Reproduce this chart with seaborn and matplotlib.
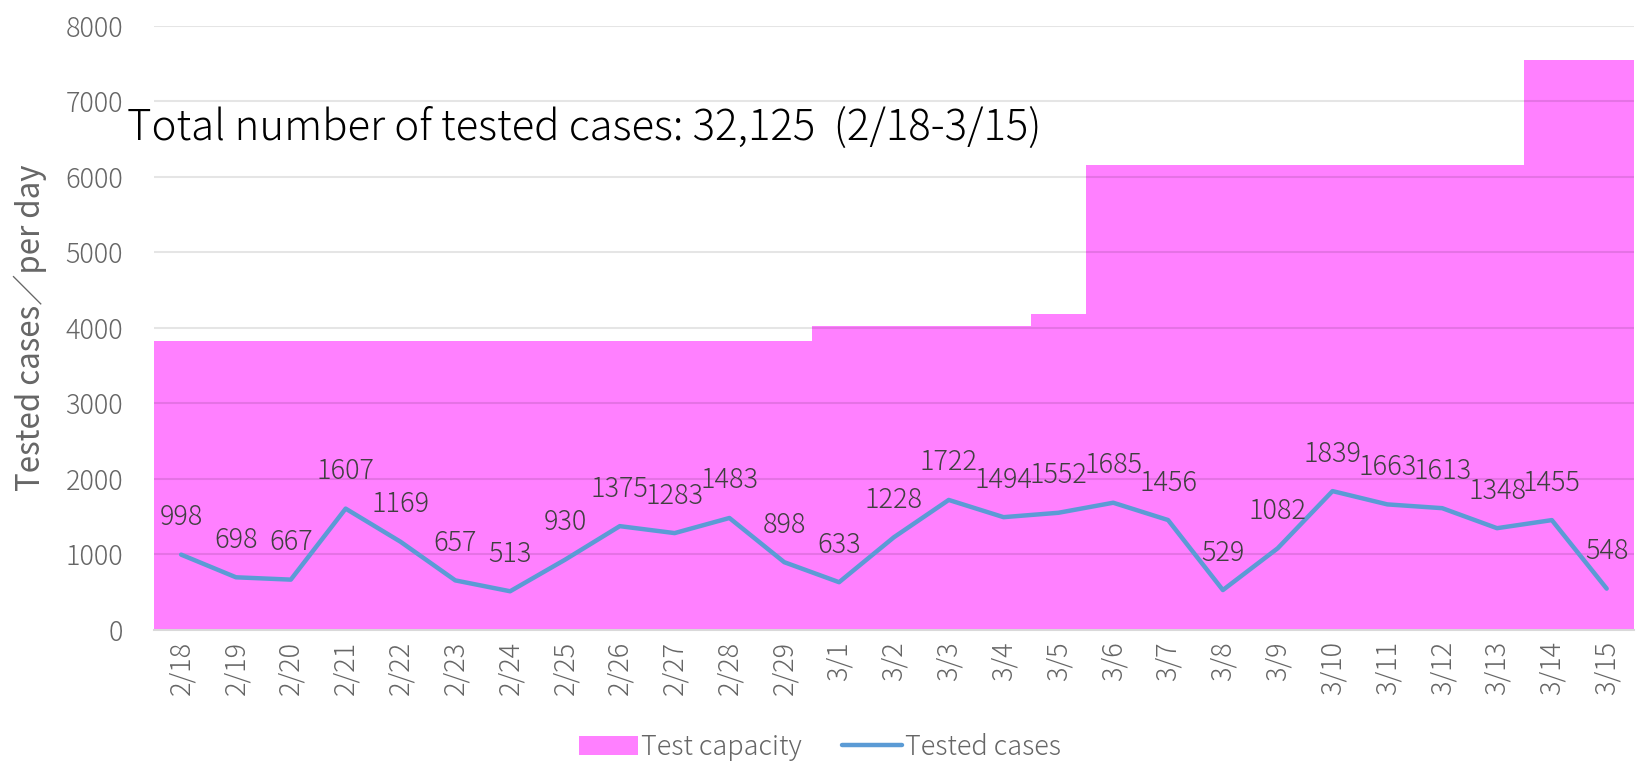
import matplotlib
matplotlib.use("Agg")
import matplotlib.pyplot as plt
import seaborn as sns
import pandas as pd
from matplotlib.patches import Patch
from matplotlib.lines import Line2D

dates = ["2/18", "2/19", "2/20", "2/21", "2/22", "2/23", "2/24", "2/25", "2/26",
         "2/27", "2/28", "2/29", "3/1", "3/2", "3/3", "3/4", "3/5", "3/6", "3/7",
         "3/8", "3/9", "3/10", "3/11", "3/12", "3/13", "3/14", "3/15"]
tested = [998, 698, 667, 1607, 1169, 657, 513, 930, 1375, 1283, 1483, 898, 633,
          1228, 1722, 1494, 1552, 1685, 1456, 529, 1082, 1839, 1663, 1613, 1348,
          1455, 548]
capacity = [3820] * 12 + [4030] * 4 + [4180] + [6150] * 8 + [7540] * 2
title_text = "Total number of tested cases: 32,125  (2/18-3/15)"

df = pd.DataFrame({"date": dates, "tested": tested, "capacity": capacity})

sns.set_theme(style="white")
plt.rcParams["font.family"] = ["Noto Sans CJK JP", "DejaVu Sans"]
plt.rcParams["font.weight"] = "light"

PINK = "#FF80FF"
BLUE = "#5B9BD5"
GRAY = "#666666"

fig = plt.figure(figsize=(16.39, 7.62), dpi=100)
ax = fig.add_axes([0.0938, 0.1732, 0.9032, 0.7931])

sns.barplot(data=df, x="date", y="capacity", color=PINK, width=1.0,
            saturation=1, ax=ax, zorder=1, linewidth=0)
sns.lineplot(x=list(range(len(dates))), y=tested, color=BLUE, linewidth=3.2,
             ax=ax, zorder=3)

for i, v in enumerate(tested):
    ax.annotate(str(v), (i, v), xytext=(0, 27), textcoords="offset points",
                ha="center", va="center", fontsize=19.5, color="#404040", zorder=4)

ax.set_xlim(-0.5, len(dates) - 0.5)
ax.set_ylim(0, 8000)
ax.set_yticks(range(0, 8001, 1000))
ax.set_axisbelow(False)
ax.yaxis.grid(True, color="black", alpha=0.1, linewidth=1.5)
ax.xaxis.grid(False)
for s in ["top", "right", "left"]:
    ax.spines[s].set_visible(False)
ax.spines["bottom"].set_color("#D9D9D9")
ax.spines["bottom"].set_linewidth(1.5)
ax.spines["bottom"].set_zorder(5)

ax.set_xticks(range(len(dates)))
ax.set_xticklabels(dates, rotation=90)
ax.tick_params(axis="both", length=0, labelsize=19.5, labelcolor=GRAY)
ax.tick_params(axis="y", pad=22)
ax.tick_params(axis="x", pad=8)
ax.set_xlabel("")
ax.set_ylabel("Tested cases／per day", fontsize=22.5, color=GRAY, labelpad=13)

fig.text(0.0775, 0.832, title_text, fontsize=30.2, color="black",
         ha="left", va="center")

handles = [Patch(facecolor=PINK, edgecolor="none"),
           Line2D([0], [0], color=BLUE, linewidth=3.2)]
leg = fig.legend(handles, ["Test capacity", "Tested cases"], loc="center",
                 bbox_to_anchor=(0.5, 0.02), ncol=2, frameon=False,
                 fontsize=19.5, handlelength=2.2, handletextpad=0.1,
                 columnspacing=1.5)
for t in leg.get_texts():
    t.set_color(GRAY)

fig.savefig("out.png", dpi=100)
